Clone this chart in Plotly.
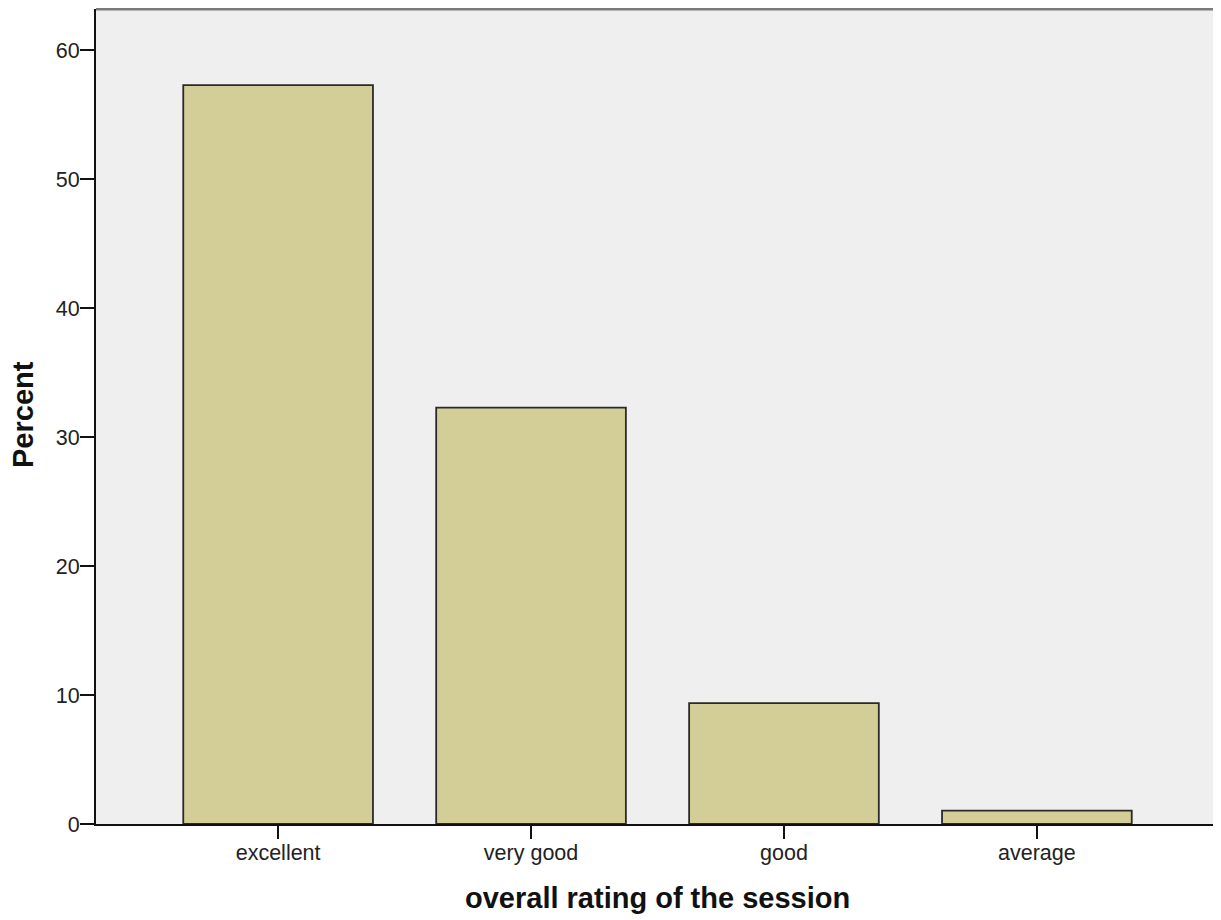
import plotly.graph_objects as go

categories = ["excellent", "very good", "good", "average"]
percent = [57.29, 32.29, 9.375, 1.04]
y_ticks = [0, 10, 20, 30, 40, 50, 60]

fig = go.Figure()
fig.add_trace(go.Bar(
    x=categories, y=percent, width=0.75,
    marker=dict(color="#D3CE97", line=dict(color="#2a2a2a", width=1.8)),
))

# page has an 8px body margin: figure starts at (8, 8)
W, H = 1213, 912
L, R, T, B = 88, 2, 1, 96

fig.update_layout(
    width=W, height=H,
    margin=dict(l=L, r=R, t=T, b=B, autoexpand=False),
    paper_bgcolor="white", plot_bgcolor="#EFEFEF",
    font=dict(family="Liberation Sans, Arial", size=21.5, color="#222"),
    showlegend=False,
    xaxis=dict(range=[-0.72, 3.72], showgrid=False, zeroline=False,
               showline=True, linecolor="#111", linewidth=2,
               ticks="outside", ticklen=13, tickwidth=2, tickcolor="#111",
               ticklabelstandoff=-5,
               tickfont=dict(size=21.5), fixedrange=True),
    yaxis=dict(range=[0, 63.2], tickvals=y_ticks, showgrid=False, zeroline=False,
               showline=True, linecolor="#111", linewidth=2,
               ticks="outside", ticklen=14, tickwidth=2, tickcolor="#111",
               ticklabelstandoff=-4,
               tickfont=dict(size=21.5), fixedrange=True),
)

# top & right frame (gray)
fig.add_shape(type="line", xref="paper", yref="paper", x0=0, x1=1, y0=1, y1=1,
              line=dict(color="#7a7a7a", width=3))
fig.add_shape(type="line", xref="paper", yref="paper", x0=1, x1=1, y0=0, y1=1,
              line=dict(color="#555", width=2))

fig.add_annotation(text="<b>overall rating of the session</b>", xref="paper", yref="paper",
                   x=0.5, y=0, yshift=-74, yanchor="middle",
                   showarrow=False, font=dict(size=29, color="#111"))
fig.add_annotation(text="<b>Percent</b>", xref="paper", yref="paper",
                   x=0, xshift=-73, xanchor="center", y=(824 - 415) / (824 - 9),
                   yanchor="middle", textangle=-90,
                   showarrow=False, font=dict(size=29, color="#111"))

fig.write_html("out.html")
